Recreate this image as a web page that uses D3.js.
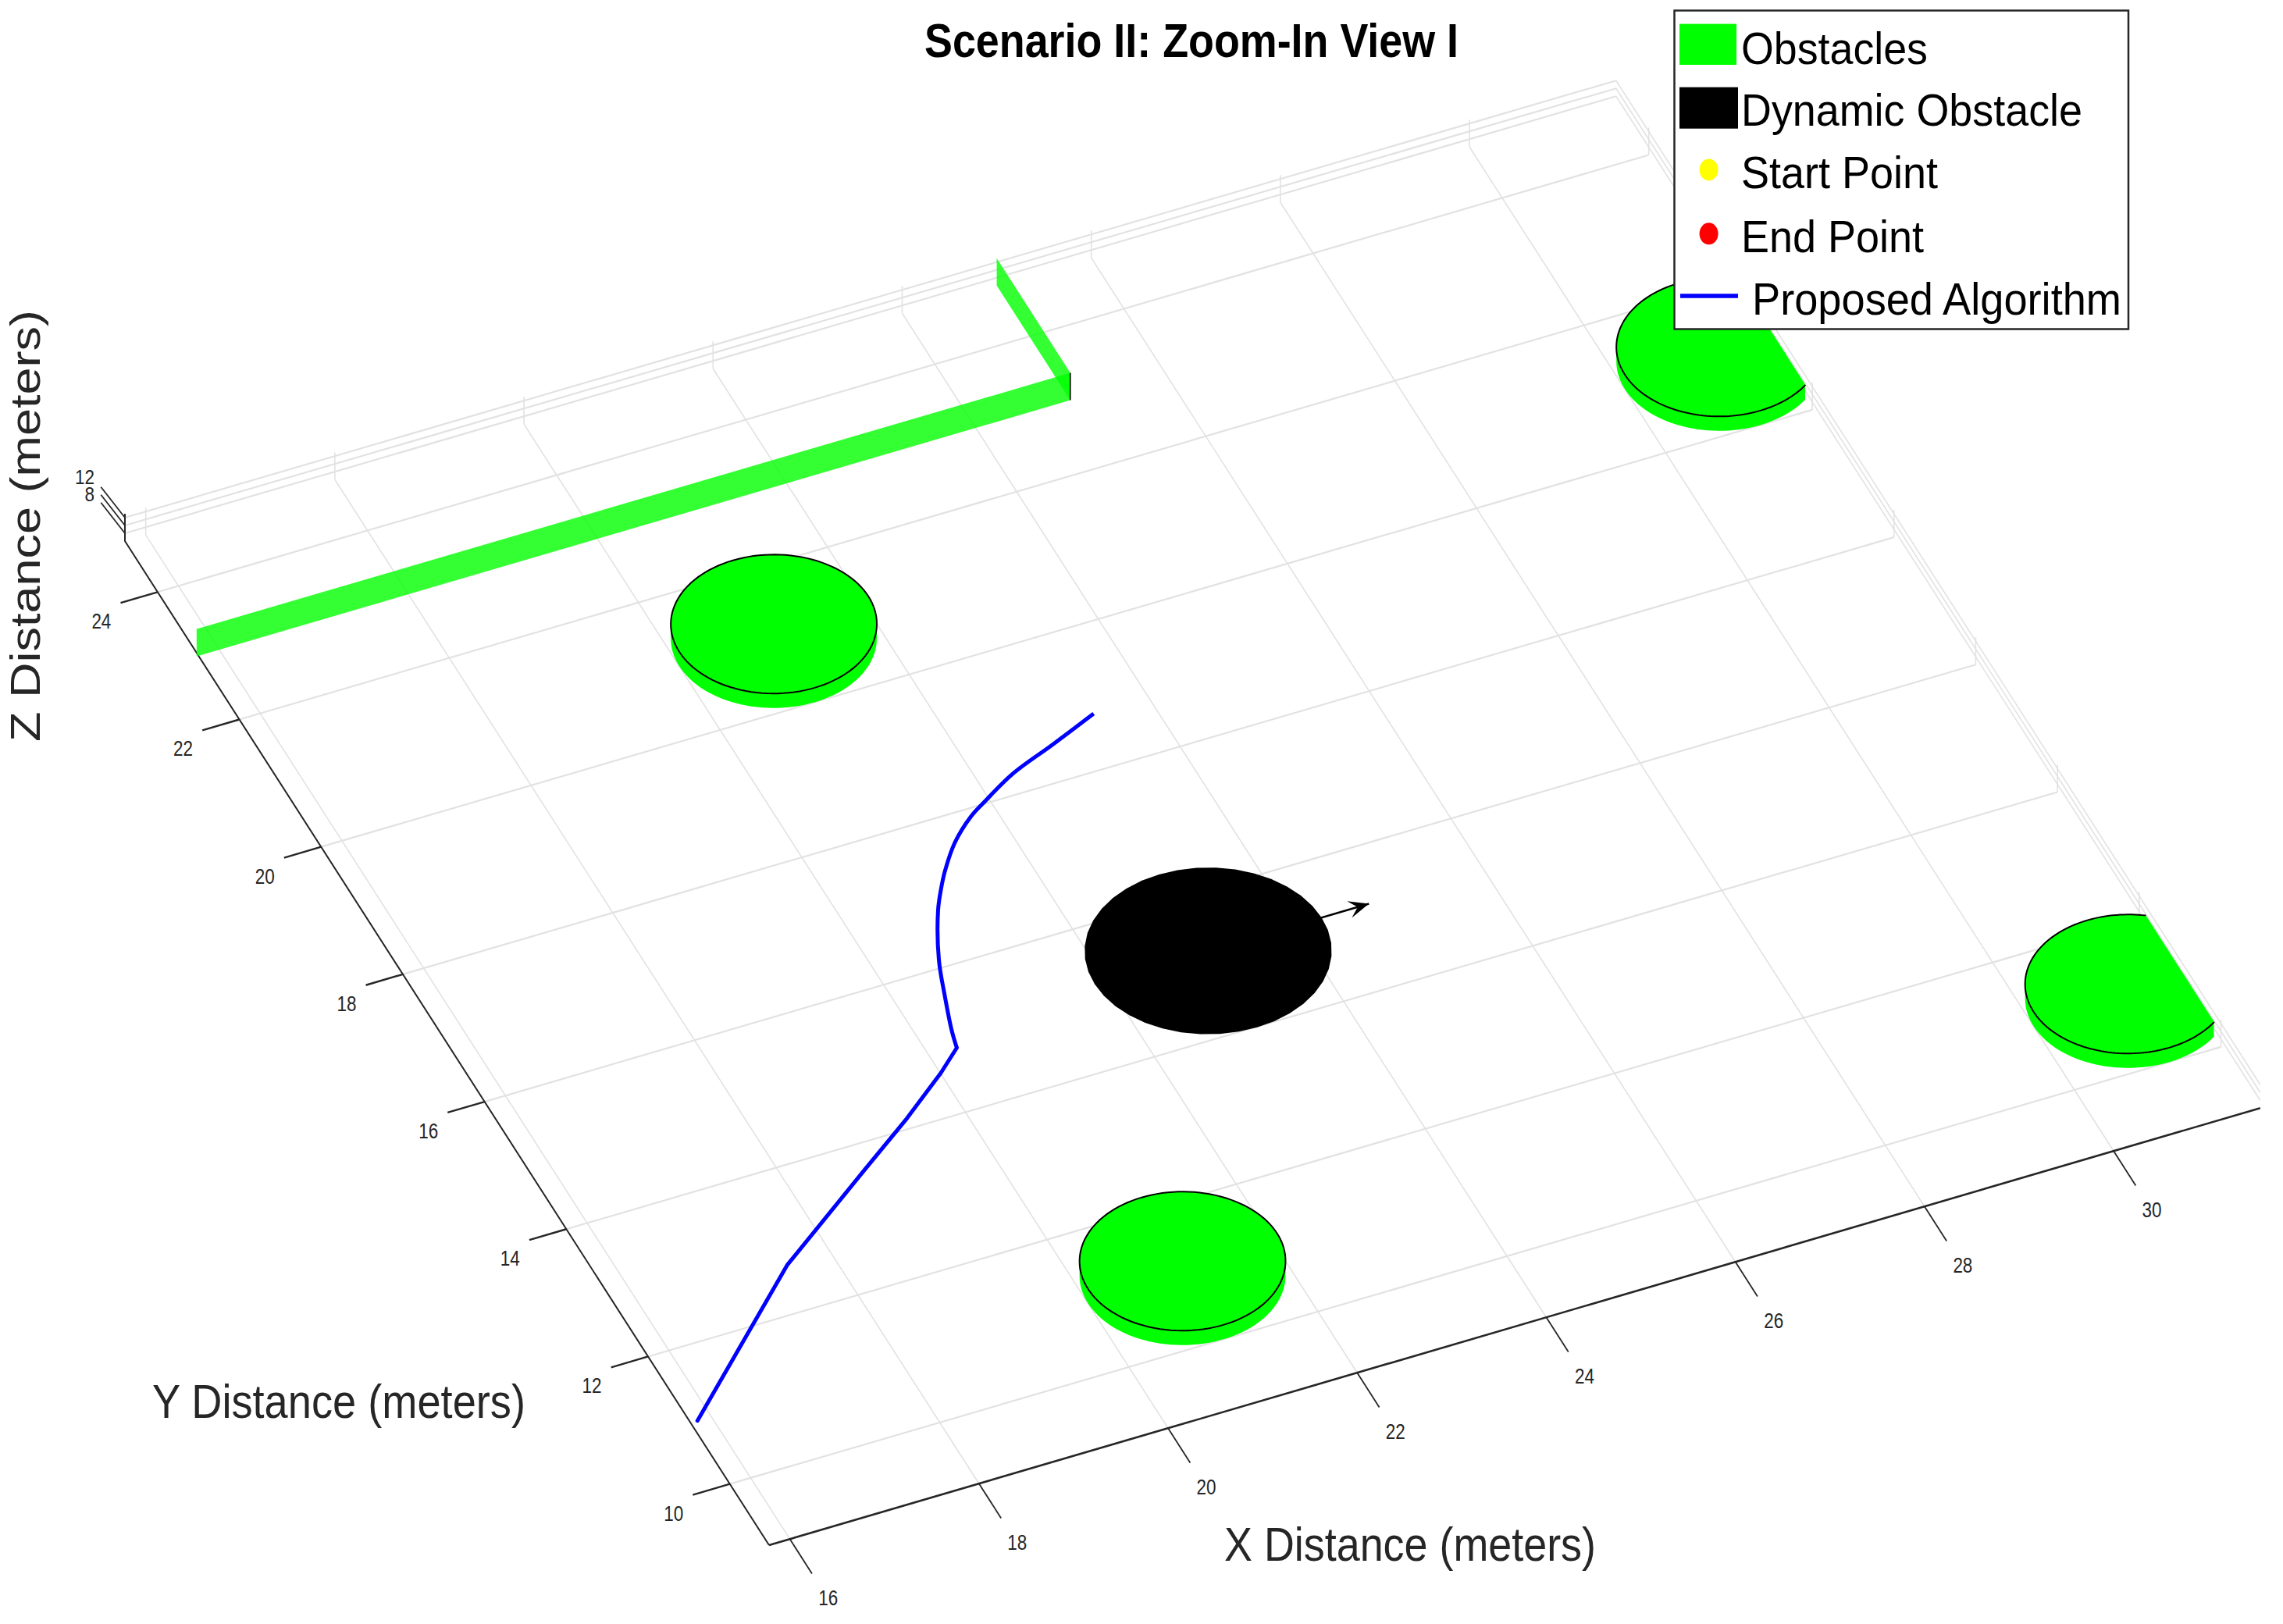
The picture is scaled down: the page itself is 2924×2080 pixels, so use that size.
<!DOCTYPE html>
<html>
<head>
<meta charset="utf-8">
<script src="https://cdn.jsdelivr.net/npm/d3@7"></script>
<style>
html,body{margin:0;padding:0;background:#fff;}
svg{display:block;}
text{font-family:"Liberation Sans",Arial,sans-serif;}
</style>
</head>
<body>
<div id="chart"></div>
<script>
// ---- data ----
const xLimits = [15.78, 31.55];
const yLimits = [9.04, 24.8];
const zLimits = [6, 13];
const xTicks = [16, 18, 20, 22, 24, 26, 28, 30];
const yTicks = [10, 12, 14, 16, 18, 20, 22, 24];
const zTicks = [8, 10, 12];
const zTickLabels = [8, 12];

const obstacleX = [21, 21, 31, 31];
const obstacleY = [11, 21, 21, 11];
const obstacleRadius = 1;
const obstacleTop = 9.7;

const wallSegments = [
  [[15.76, 23], [25, 23]],
  [[25, 23], [25, 24.8]]
];

const dynamicX = 23, dynamicY = 15, dynamicZ = 9.7, dynamicRadius = 1.2;
const arrowTipX = 24.7;

const pathX = [15.77,17.457,18.698,19.36,19.923,20.209,20.264,20.397,20.552,20.827,20.972,21.111,21.363,21.654,21.857,22.274,22.786,23.335];
const pathY = [10.77,12.478,13.443,13.952,14.422,14.693,14.947,15.42,15.925,16.581,16.846,17.071,17.411,17.693,17.834,18.098,18.325,18.577];
const pathZ = 9.7;
const pathKink = 5; // index where the straight run ends and the smooth bend starts

const legendLabels = ["Obstacles", "Dynamic Obstacle", "Start Point", "End Point", "Proposed Algorithm"];
const titleText = "Scenario II: Zoom-In View I";
const xLabelText = "X Distance (meters)";
const yLabelText = "Y Distance (meters)";
const zLabelText = "Z Distance (meters)";

// ---- projection of the 3-D box on the page ----
const W = 2924, H = 2080;
const sx = d3.scaleLinear().domain(xLimits).range([0, 1]);
const sy = d3.scaleLinear().domain(yLimits).range([0, 1]);
const sz = d3.scaleLinear().domain(zLimits).range([0, 1]);
const origin = [985, 1979], axisX = [1909.8, -559.8], axisY = [-825, -1286], axisZ = [0, -35];
const project = (x, y, z) => [
  origin[0] + sx(x) * axisX[0] + sy(y) * axisY[0] + sz(z) * axisZ[0],
  origin[1] + sx(x) * axisX[1] + sy(y) * axisY[1] + sz(z) * axisZ[1]
];
const [x0, x1] = xLimits, [y0, y1] = yLimits, [z0, z1] = zLimits;
const line = d3.line();
const smooth = d3.line().curve(d3.curveCatmullRom.alpha(0.5));
const GREEN = "#00ff00", GRID = "#e2e2e2", AXIS = "#262626";

const svg = d3.select("#chart").append("svg").attr("width", W).attr("height", H).attr("viewBox", `0 0 ${W} ${H}`);
svg.append("rect").attr("width", W).attr("height", H).attr("fill", "#fff");

// text squeezed to the width it has in the reference
function label(g, str, x, y, size, width, opts = {}) {
  const t = g.append("text").attr("x", x).attr("y", y).attr("font-size", size)
    .attr("fill", opts.fill || AXIS).attr("text-anchor", opts.anchor || "start")
    .attr("font-weight", opts.weight || "normal")
    .attr("textLength", width).attr("lengthAdjust", "spacingAndGlyphs").text(str);
  if (opts.rotate) t.attr("transform", `rotate(${opts.rotate} ${x} ${y})`);
  return t;
}

// ---- grid ----
const grid = svg.append("g").attr("fill", "none").attr("stroke", GRID);
const seg = (a, b, w) => grid.append("path").attr("d", line([a, b])).attr("stroke-width", w);
xTicks.forEach(x => {
  seg(project(x, y0, z0), project(x, y1, z0), 1.6);
  seg(project(x, y1, z0), project(x, y1, z1), 1.6);
});
yTicks.forEach(y => {
  seg(project(x0, y, z0), project(x1, y, z0), 2.2);
  seg(project(x1, y, z0), project(x1, y, z1), 1.6);
});
zTicks.forEach(z => {
  seg(project(x0, y1, z), project(x1, y1, z), 2.2);
  seg(project(x1, y1, z), project(x1, y0, z), 1.6);
});

// ---- axes ----
const axes = svg.append("g").attr("fill", "none").attr("stroke", AXIS);
axes.append("path").attr("stroke-width", 2.6).attr("d", line([project(x0, y0, z0), project(x1, y0, z0)]));
axes.append("path").attr("stroke-width", 2).attr("d", line([project(x0, y0, z0), project(x0, y1, z0), project(x0, y1, z1)]));
const labels = svg.append("g");
xTicks.forEach(x => {
  const p = project(x, y0, z0);
  axes.append("path").attr("stroke-width", 1.8).attr("d", line([p, [p[0] + 28.3, p[1] + 44.2]]));
  label(labels, String(x), p[0] + 49, p[1] + 85, 28, 25, { anchor: "middle" });
});
yTicks.forEach(y => {
  const p = project(x0, y, z0);
  axes.append("path").attr("stroke-width", 2.4).attr("d", line([p, [p[0] - 47.4, p[1] + 13.9]]));
  label(labels, String(y), p[0] - 72, p[1] + 47, 28, 25, { anchor: "middle" });
});
zTicks.forEach(z => {
  const p = project(x0, y1, z);
  axes.append("path").attr("stroke-width", 1.8).attr("d", line([p, [p[0] - 30.7, p[1] - 39.3]]));
  if (zTickLabels.includes(z)) {
    label(labels, String(z), p[0] - 39, p[1] - (z === 12 ? 43 : 41), 26, z === 12 ? 25 : 12.5, { anchor: "end" });
  }
});

// ---- thin walls ----
const walls = svg.append("g");
wallSegments.forEach(([[ax, ay], [bx, by]]) => {
  walls.append("path")
    .attr("d", line([project(ax, ay, z0), project(bx, by, z0), project(bx, by, z1), project(ax, ay, z1)]) + "Z")
    .attr("fill", GREEN).attr("fill-opacity", 0.8);
});
walls.append("path").attr("fill", "none").attr("stroke", "#000").attr("stroke-width", 1.5)
  .attr("d", line([project(25, 23, z0), project(25, 23, z1)]));

// ---- cylinders, flattened against the x limit ----
const turns = d3.range(0, 120).map(i => i / 120 * 2 * Math.PI);
const ring = (cx, cy, r, z) => turns.map(t => project(Math.min(cx + r * Math.cos(t), x1), cy + r * Math.sin(t), z));
const cylinders = svg.append("g");
obstacleX.forEach((cx, i) => {
  const cy = obstacleY[i], r = obstacleRadius;
  const hull = d3.polygonHull(ring(cx, cy, r, z0).concat(ring(cx, cy, r, obstacleTop)));
  cylinders.append("path").attr("d", line(hull) + "Z").attr("fill", GREEN);
  const start = cx + r > x1 ? Math.acos((x1 - cx) / r) : 0;
  const arc = d3.range(start, 2 * Math.PI - start + 1e-6, (2 * Math.PI - 2 * start) / 120)
    .map(t => project(cx + r * Math.cos(t), cy + r * Math.sin(t), obstacleTop));
  cylinders.append("path").attr("d", line(arc)).attr("fill", "none").attr("stroke", "#000").attr("stroke-width", 2);
});

// ---- dynamic obstacle and its heading ----
const defs = svg.append("defs");
defs.append("marker").attr("id", "head").attr("markerUnits", "userSpaceOnUse")
  .attr("viewBox", "-30 -15 32 30").attr("markerWidth", 32).attr("markerHeight", 30)
  .attr("refX", 0).attr("refY", 0).attr("orient", "auto")
  .append("path").attr("d", "M0,0 L-26,-11 L-15,0 L-26,11 Z").attr("fill", "#000");
svg.append("path")
  .attr("d", line([project(dynamicX, dynamicY, dynamicZ), project(arrowTipX, dynamicY, dynamicZ)]))
  .attr("fill", "none").attr("stroke", "#000").attr("stroke-width", 2.5).attr("marker-end", "url(#head)");
svg.append("path")
  .attr("d", line(d3.range(0, 40).map(i => i / 40 * 2 * Math.PI)
    .map(t => project(dynamicX + dynamicRadius * Math.cos(t), dynamicY + dynamicRadius * Math.sin(t), dynamicZ))) + "Z")
  .attr("fill", "#000");

// ---- path: straight run up to the kink, then a smooth bend ----
const pathPoints = pathX.map((x, i) => project(x, pathY[i], pathZ));
svg.append("path")
  .attr("d", line(pathPoints.slice(0, pathKink + 1)))
  .attr("fill", "none").attr("stroke", "#0000ff").attr("stroke-width", 5).attr("stroke-linejoin", "round").attr("stroke-linecap", "round");
svg.append("path")
  .attr("d", smooth(pathPoints.slice(pathKink)))
  .attr("fill", "none").attr("stroke", "#0000ff").attr("stroke-width", 5).attr("stroke-linejoin", "round");

// ---- titles ----
label(svg, titleText, 1184, 72.5, 62, 684, { weight: "bold", fill: "#000" });
label(svg, xLabelText, 1568, 1999, 62, 476);
label(svg, yLabelText, 195, 1816, 62, 478);
label(svg, zLabelText, 51, 950, 53, 553, { rotate: -90 });

// ---- legend ----
const lg = svg.append("g");
lg.append("rect").attr("x", 2144.5).attr("y", 13.5).attr("width", 581.5).attr("height", 408)
  .attr("fill", "#fff").attr("stroke", AXIS).attr("stroke-width", 2.5);
lg.append("rect").attr("x", 2151).attr("y", 30.6).attr("width", 73).attr("height", 52.4).attr("fill", GREEN);
lg.append("rect").attr("x", 2151).attr("y", 111.7).attr("width", 75).attr("height", 53).attr("fill", "#000");
lg.append("ellipse").attr("cx", 2188.6).attr("cy", 217.4).attr("rx", 12).attr("ry", 14).attr("fill", "#ffff00");
lg.append("ellipse").attr("cx", 2188.6).attr("cy", 299.3).attr("rx", 12).attr("ry", 14).attr("fill", "#ff0000");
lg.append("line").attr("x1", 2152).attr("x2", 2226).attr("y1", 378.9).attr("y2", 378.9).attr("stroke", "#0000ff").attr("stroke-width", 5.5);
const legendX = [2230, 2230, 2230, 2230, 2244];
const legendBaseline = [82, 160.7, 241, 323.4, 402.6];
const legendWidth = [239, 437, 252, 234, 473];
legendLabels.forEach((s, i) => label(lg, s, legendX[i], legendBaseline[i], 58, legendWidth[i], { fill: "#000" }));
</script>
</body>
</html>
